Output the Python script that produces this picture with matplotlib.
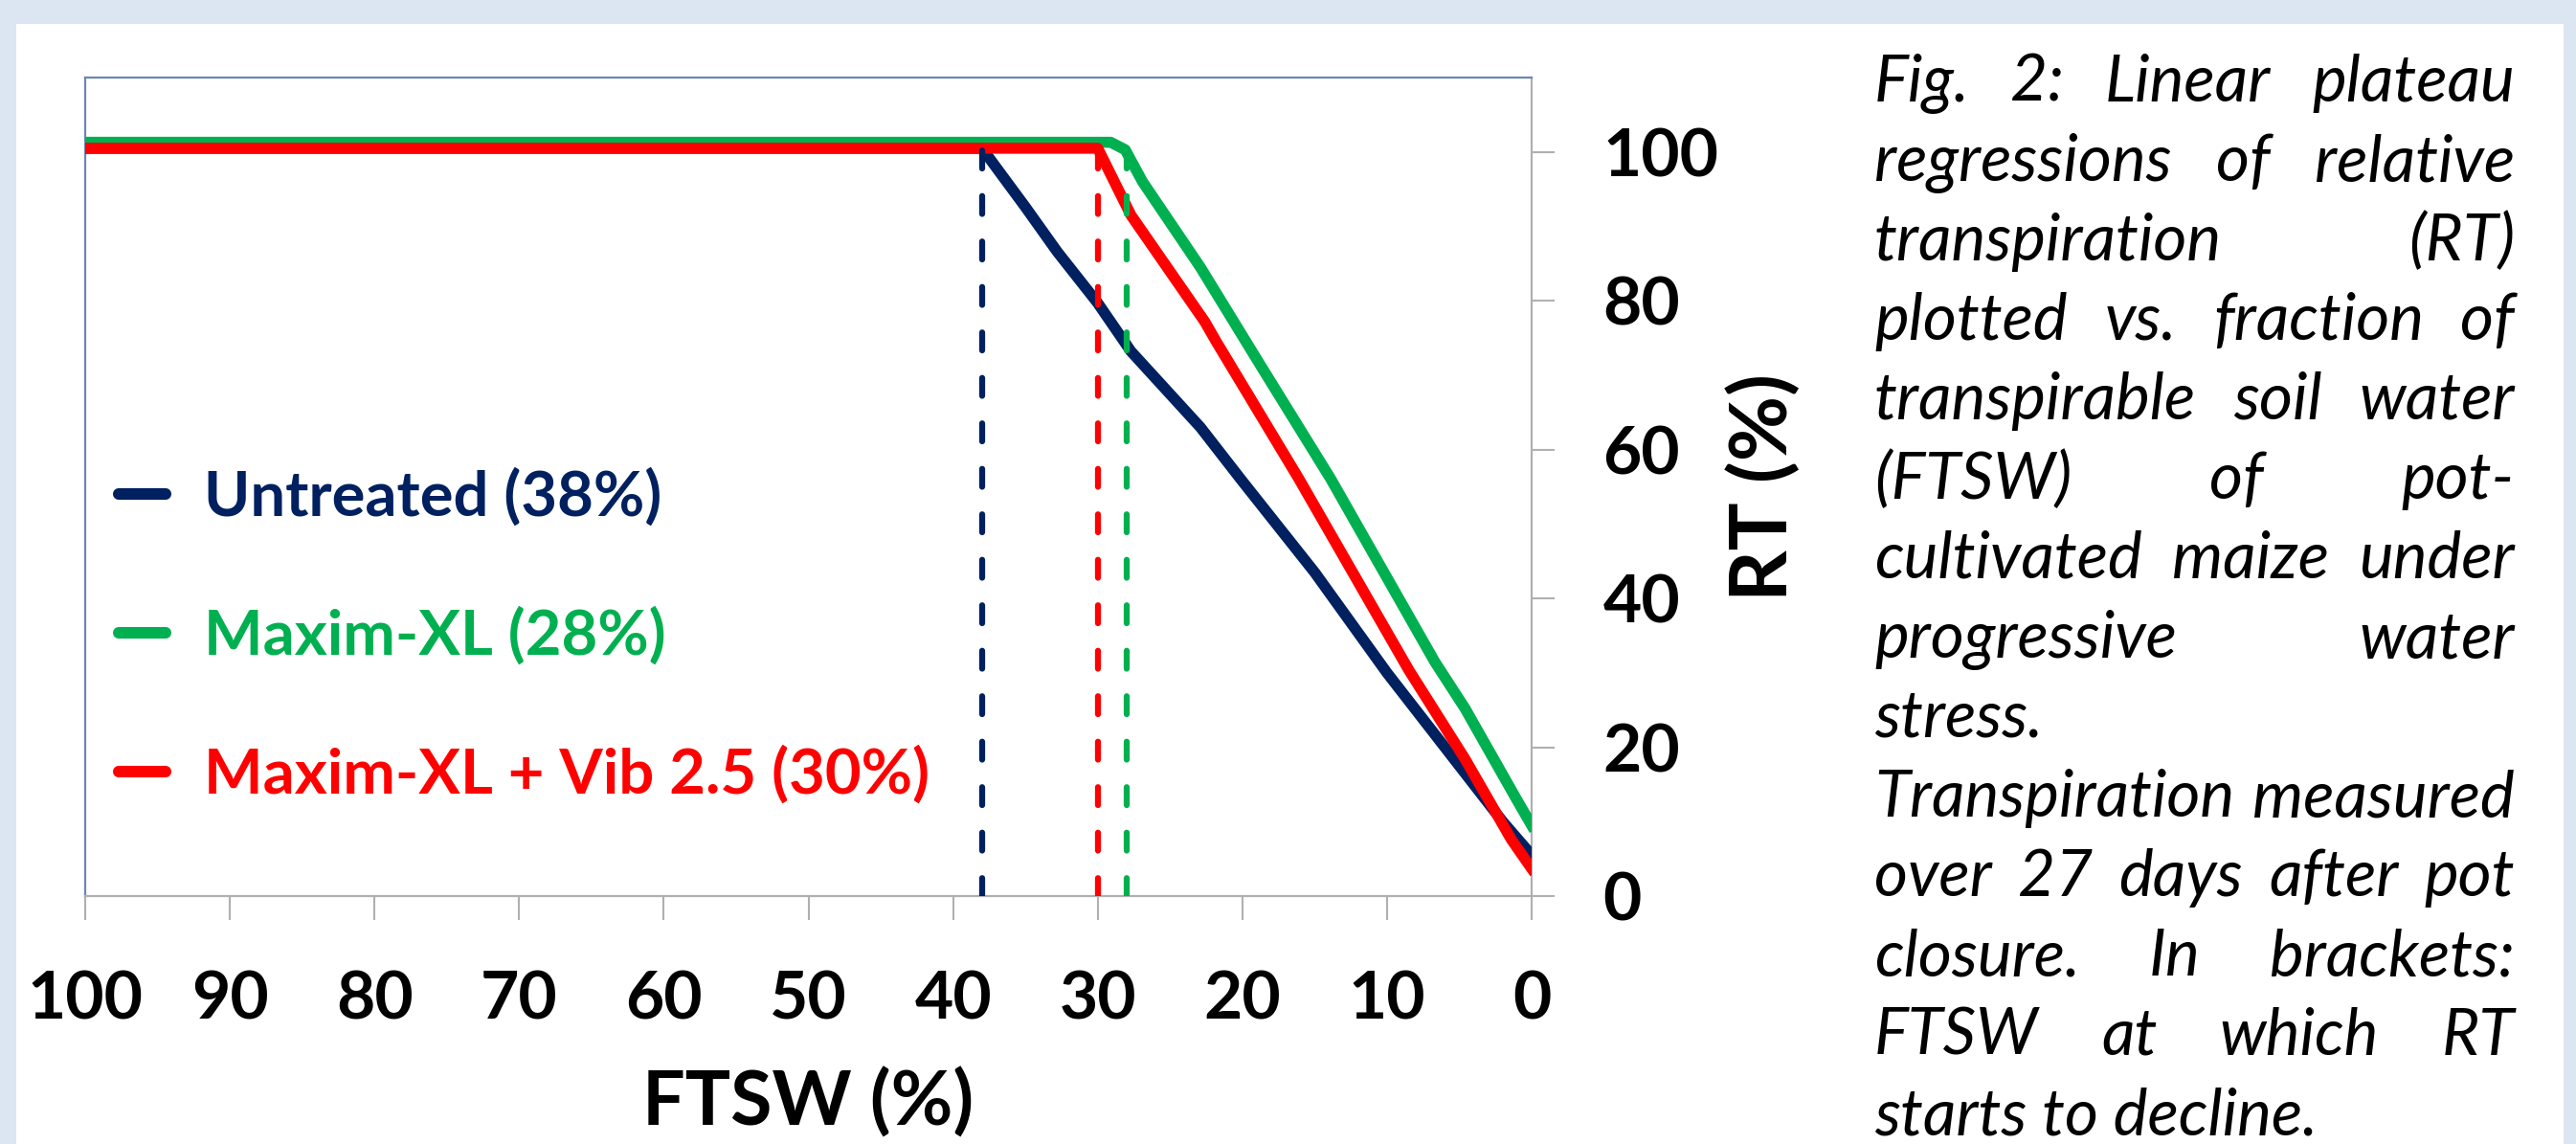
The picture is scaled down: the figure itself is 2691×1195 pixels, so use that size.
import matplotlib
matplotlib.use("Agg")
import matplotlib.pyplot as plt
from matplotlib.lines import Line2D
from matplotlib.patches import Rectangle

# ---------------- data ----------------
ftsw_untreated = [100, 38, 35, 32.8, 30, 27.7, 22.9, 20.1, 15, 10, 5, 2, 0]
rt_untreated = [100.5, 100.5, 92.6, 86.6, 79.7, 73.2, 63.0, 56.0, 43.5, 30.0, 17.5, 10.0, 5.5]

ftsw_maxim = [100, 29.1, 28.1, 26.9, 22.9, 18.8, 13.9, 6.7, 4.6, 1.1, 0]
rt_maxim = [101.3, 101.3, 100.3, 96.0, 84.5, 71.5, 56.1, 31.5, 25.2, 13.2, 9.5]

ftsw_vib = [100, 30, 27.7, 22.6, 21.8, 16.1, 8.5, 4.6, 1.4, 0]
rt_vib = [100.5, 100.5, 91.5, 77.2, 74.5, 56.1, 30.4, 18.4, 7.6, 3.7]

series_labels = ["Untreated (38%)", "Maxim-XL (28%)", "Maxim-XL + Vib 2.5 (30%)"]
series_colors = ["#002060", "#00B050", "#FF0000"]
breakpoints = [38, 28, 30]          # FTSW at which RT starts to decline
breakpoint_tops = [101.2, 101.0, 100.0]

x_ticks = list(range(0, 101, 10))
y_ticks = list(range(0, 101, 20))

caption_lines = [
    "Fig. 2: Linear plateau",
    "regressions of relative",
    "transpiration (RT)",
    "plotted vs. fraction of",
    "transpirable soil water",
    "(FTSW) of pot-",
    "cultivated maize under",
    "progressive water",
    "stress.",
    "Transpiration measured",
    "over 27 days after pot",
    "closure. In brackets:",
    "FTSW at which RT",
    "starts to decline.",
]
caption_justify = [True] * 8 + [False] + [True] * 4 + [False]

# ---------------- figure ----------------
W, H, DPI = 2691, 1195, 100
plt.rcParams["font.family"] = ["Lato", "DejaVu Sans"]

fig = plt.figure(figsize=(W / DPI, H / DPI), dpi=DPI, facecolor="#dce6f2")
fig.patches.append(Rectangle((17 / W, 0), (2678 - 17) / W, (H - 25) / H,
                             transform=fig.transFigure, facecolor="white",
                             edgecolor="none", zorder=-10))

ax_l, ax_r, ax_t, ax_b = 89, 1600, 81, 936
ax = fig.add_axes([ax_l / W, (H - ax_b) / H, (ax_r - ax_l) / W, (ax_b - ax_t) / H])
ax.set_facecolor("white")

lw = 8.3
ax.plot(ftsw_maxim, rt_maxim, color=series_colors[1], lw=lw, solid_joinstyle="round", zorder=3)
ax.plot(ftsw_untreated, rt_untreated, color=series_colors[0], lw=lw, solid_joinstyle="round", zorder=4)
ax.plot(ftsw_vib, rt_vib, color=series_colors[2], lw=lw, solid_joinstyle="round", zorder=5)

for bp, top, c in zip(breakpoints, breakpoint_tops, series_colors):
    ax.plot([bp, bp], [0, top], color=c, lw=4.5, dashes=(3.0, 4.6),
            dash_capstyle="round", zorder=6)

ax.set_xlim(100, 0)
ax.set_ylim(0, 110)
ax.set_xticks(x_ticks)
ax.set_yticks(y_ticks)

for s in ("left", "top"):
    ax.spines[s].set_color("#6d86b4")
    ax.spines[s].set_linewidth(1.6)
for s in ("right", "bottom"):
    ax.spines[s].set_color("#b0b0b0")
    ax.spines[s].set_linewidth(1.6)

ax.yaxis.tick_right()
ax.tick_params(axis="y", which="both", left=False, right=True, direction="out",
               length=17.5, width=1.5, color="#b0b0b0", pad=36, labelsize=50)
ax.tick_params(axis="x", direction="out", length=18, width=1.5, color="#b0b0b0",
               pad=38, labelsize=50)
for lbl in ax.get_xticklabels() + ax.get_yticklabels():
    lbl.set_fontweight("bold")
    lbl.set_color("black")

ax.set_ylabel("RT (%)", fontsize=60, fontweight="bold")
ax.yaxis.set_label_position("right")
ax.yaxis.set_label_coords((1842 - ax_l) / (ax_r - ax_l), 0.5)
ax.yaxis.label.set_rotation_mode("default")
ax.yaxis.label.set_va("center")
ax.yaxis.label.set_ha("center")

ax.set_xlabel("FTSW (%)", fontsize=57, fontweight="bold")
ax.xaxis.set_label_coords(0.5, (ax_b - 1152) / (ax_b - ax_t))
ax.xaxis.label.set_va("center")

handles = [Line2D([], [], color=c, lw=lw * 1.05, solid_capstyle="round") for c in series_colors]
ax.legend(handles, series_labels, loc="center left",
          bbox_to_anchor=((124 - ax_l) / (ax_r - ax_l), (ax_b - 664) / (ax_b - ax_t)),
          frameon=False, prop=dict(family="Lato", weight="bold", size=47),
          handlelength=0.75, handletextpad=0.62, labelspacing=1.28,
          borderpad=0, borderaxespad=0, labelcolor=series_colors)

# ---------------- justified caption ----------------
cap_left, cap_right = 1958, 2627
cap_base0, cap_step = 106, 83
cap_size = 60.0

fig.canvas.draw()
renderer = fig.canvas.get_renderer()


def text_width(s, size):
    t = fig.text(0, 0, s, fontsize=size, fontstyle="italic", family="Lato")
    w = t.get_window_extent(renderer).width
    t.remove()
    return w


width = cap_right - cap_left
space_w = text_width("a a", cap_size) - 2 * text_width("a", cap_size)
worst = 0
for line in caption_lines:
    words = line.split()
    nat = sum(text_width(w_, cap_size) for w_ in words) + space_w * (len(words) - 1)
    worst = max(worst, nat)
if worst > width:
    cap_size = cap_size * width / worst * 0.995

for i, (line, just) in enumerate(zip(caption_lines, caption_justify)):
    yb = 1 - (cap_base0 + i * cap_step) / H
    words = line.split()
    if just and len(words) > 1:
        ws = [text_width(w_, cap_size) for w_ in words]
        gap = (width - sum(ws)) / (len(words) - 1)
        x = cap_left
        for w_, wd in zip(words, ws):
            fig.text(x / W, yb, w_, fontsize=cap_size, fontstyle="italic",
                     family="Lato", va="baseline", ha="left", color="black")
            x += wd + gap
    else:
        fig.text(cap_left / W, yb, line, fontsize=cap_size, fontstyle="italic",
                 family="Lato", va="baseline", ha="left", color="black")

fig.savefig("out.png", dpi=DPI, facecolor=fig.get_facecolor())
